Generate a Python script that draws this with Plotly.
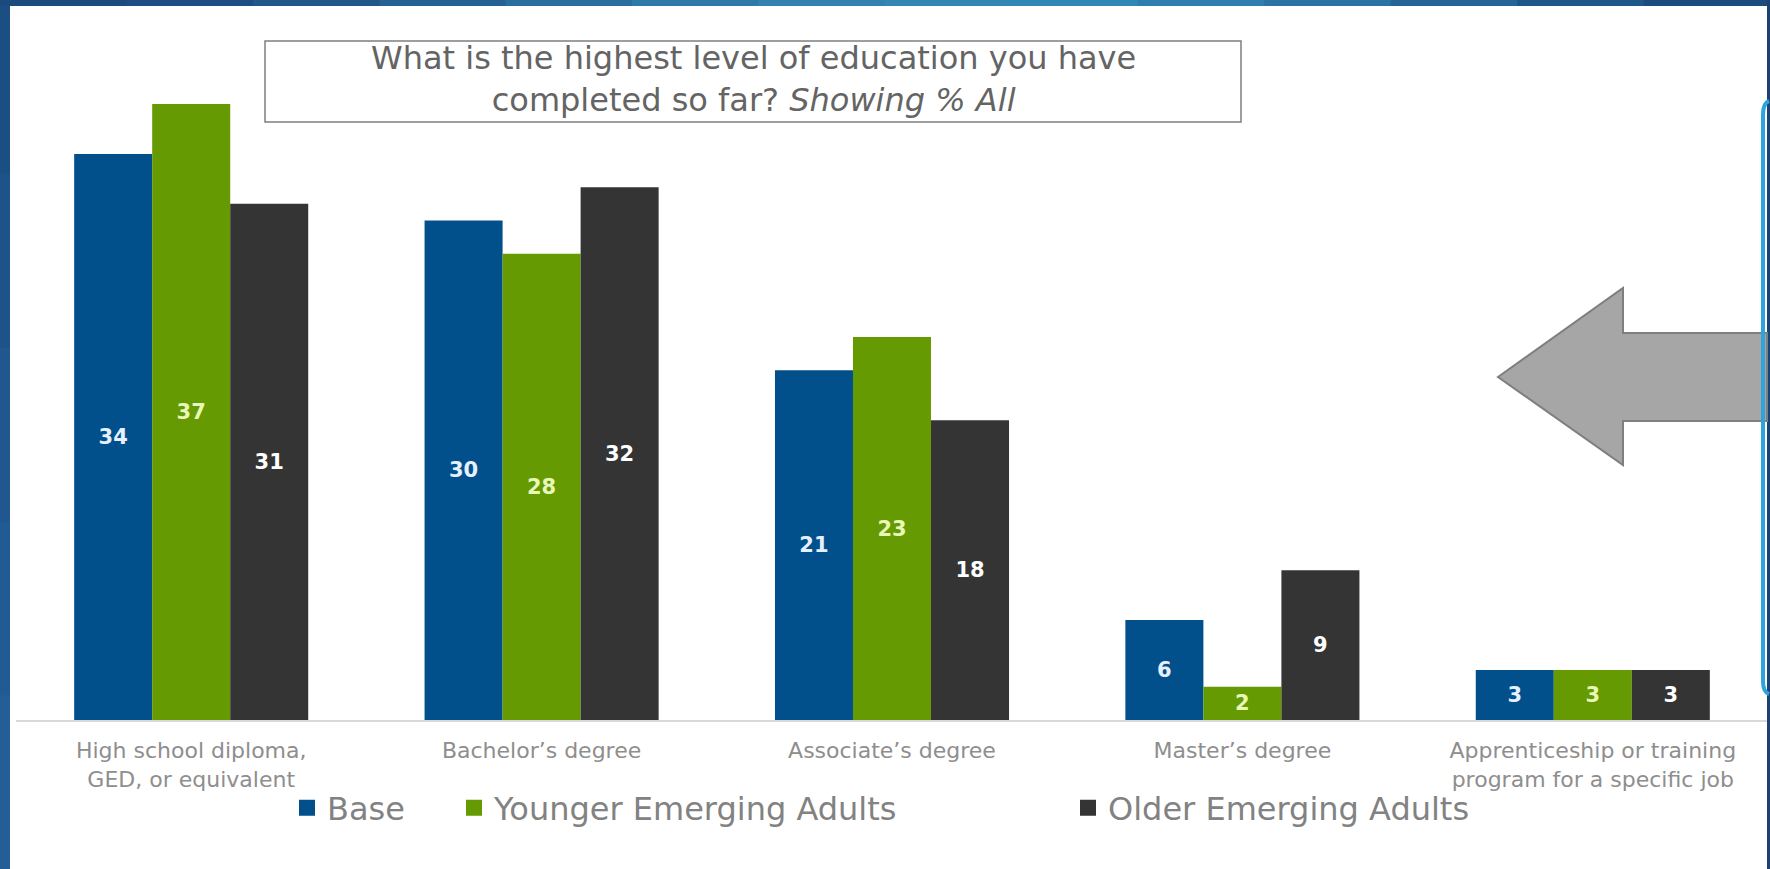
import plotly.graph_objects as go

# ---- data -------------------------------------------------------------
categories = [
    "High school diploma,<br>GED, or equivalent",
    "Bachelor’s degree",
    "Associate’s degree",
    "Master’s degree",
    "Apprenticeship or training<br>program for a specific job",
]
series_names = ["Base", "Younger Emerging Adults", "Older Emerging Adults"]
base_vals = [34, 30, 21, 6, 3]
younger_vals = [37, 28, 23, 2, 3]
older_vals = [31, 32, 18, 9, 3]

question_text = ("What is the highest level of education you have<br>"
                 "completed so far? <i>Showing % All</i>")

# ---- styling ----------------------------------------------------------
W, H = 1770, 869
M_L, M_R, M_T, M_B = 16, 2, 54, 149
PLOT_W = W - M_L - M_R
PLOT_H = H - M_T - M_B

bar_colors = ["#02508b", "#669a02", "#343434"]
label_colors = ["#e6f0ff", "#e9f7b8", "#ffffff"]
FONT = "DejaVu Sans"


def px(x):
    """pixel x -> paper x"""
    return (x - M_L) / PLOT_W


def py(y):
    """pixel y (from top) -> paper y"""
    return (H - M_B - y) / PLOT_H


fig = go.Figure()

values = [base_vals, younger_vals, older_vals]
for name, vals, col, lcol in zip(series_names, values, bar_colors, label_colors):
    fig.add_trace(go.Bar(
        x=categories, y=vals, name=name,
        marker=dict(color=col, line=dict(width=0)),
        text=vals, texttemplate="%{text}",
        textposition="inside", insidetextanchor="middle", textangle=0,
        textfont=dict(family="DejaVu Sans", size=21, color=lcol, weight="bold"),
        showlegend=False, hoverinfo="skip",
    ))

# legend entries, one legend per series so each sits at its own spot
legend_ids = ["legend", "legend2", "legend3"]
legend_x = [287, 454, 1068]
for name, col, lid in zip(series_names, bar_colors, legend_ids):
    fig.add_trace(go.Scatter(
        x=[None], y=[None], mode="markers", name=name,
        marker=dict(symbol="square", size=16, color=col),
        legend=lid, showlegend=True,
    ))

legend_common = dict(
    orientation="h", yanchor="middle", xanchor="left",
    y=py(808), bgcolor="rgba(0,0,0,0)", borderwidth=0,
    font=dict(family=FONT, size=32, color="#828282"),
    itemsizing="trace",
)

shapes = []

# slide frame: left edge and top band
left_cols = ["#1b4f84", "#1d5389", "#1f578e", "#215b93", "#235e97"]
seg_h = H / len(left_cols)
for i, c in enumerate(left_cols):
    shapes.append(dict(type="rect", xref="paper", yref="paper", layer="above",
                       x0=px(0), x1=px(10), y0=py(i * seg_h), y1=py((i + 1) * seg_h + 1),
                       fillcolor=c, line=dict(width=0)))
top_cols = ["#1b4a7e", "#1d4e83", "#215689", "#256293", "#2a6e9e", "#2e79a8",
            "#3182b0", "#3287b5", "#3187b6", "#2e7fb0", "#2a73a4", "#246497",
            "#1f5689", "#1b4a7d"]
seg_w = W / len(top_cols)
for i, c in enumerate(top_cols):
    shapes.append(dict(type="rect", xref="paper", yref="paper", layer="above",
                       x0=px(i * seg_w), x1=px((i + 1) * seg_w + 1), y0=py(0), y1=py(6),
                       fillcolor=c, line=dict(width=0)))
# right edge strip
shapes.append(dict(type="rect", xref="paper", yref="paper", layer="above",
                   x0=px(1767), x1=px(1770), y0=py(0), y1=py(H),
                   fillcolor="#1b4274", line=dict(width=0)))

# question box
shapes.append(dict(type="rect", xref="paper", yref="paper",
                   x0=px(265), x1=px(1241), y0=py(41), y1=py(122),
                   fillcolor="white", line=dict(color="#7f7f7f", width=1.5)))

# grey left-pointing arrow
arrow_pts = [(1498, 377), (1623, 288), (1623, 333), (1767, 333),
             (1767, 421), (1623, 421), (1623, 465)]
path = "M " + " L ".join(f"{px(a)},{py(b)}" for a, b in arrow_pts) + " Z"
shapes.append(dict(type="path", xref="paper", yref="paper", path=path,
                   fillcolor="#a6a6a6", line=dict(color="#7f7f7f", width=2)))

# edge of the callout panel on the right
edge = (f"M {px(1769)},{py(101)} Q {px(1763)},{py(103)} {px(1763)},{py(115)} "
        f"L {px(1763)},{py(681)} Q {px(1763)},{py(692)} {px(1769)},{py(694)}")
shapes.append(dict(type="path", xref="paper", yref="paper", path=edge,
                   line=dict(color="#2ea3dc", width=4), layer="above"))

annotations = [
    dict(text=question_text, x=px(753), y=py(79), xref="paper", yref="paper",
         showarrow=False, xanchor="center", yanchor="middle", align="center",
         font=dict(family=FONT, size=32, color="#646464")),
]

fig.update_layout(
    width=W, height=H,
    margin=dict(l=M_L, r=M_R, t=M_T, b=M_B, pad=0),
    paper_bgcolor="white", plot_bgcolor="white",
    barmode="group", bargap=0.332, bargroupgap=0,
    xaxis=dict(showline=True, linecolor="#d9d9d9", linewidth=1.5,
               showgrid=False, zeroline=False, ticks="",
               tickfont=dict(family=FONT, size=22, color="#8e8e8e"),
               ticklabelstandoff=10, fixedrange=True),
    yaxis=dict(range=[0, 40], visible=False, showgrid=False, zeroline=False,
               fixedrange=True),
    legend=dict(legend_common, x=px(legend_x[0])),
    legend2=dict(legend_common, x=px(legend_x[1])),
    legend3=dict(legend_common, x=px(legend_x[2])),
    shapes=shapes, annotations=annotations,
    showlegend=True,
)

fig.write_html("out.html", config={"displayModeBar": False})
